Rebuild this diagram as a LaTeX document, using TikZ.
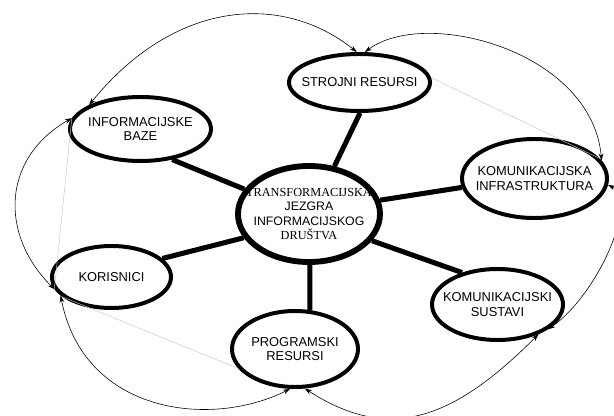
\documentclass[tikz,border=0pt]{standalone}
\usepackage{fontspec}
\setmainfont{Liberation Sans}
\newfontfamily\timesfont{Liberation Serif}
\usetikzlibrary{shapes.geometric,arrows.meta}

\begin{document}
\begin{tikzpicture}[x=0.03cm, y=0.03cm]
  \tikzset{
    area/.style={ellipse, draw, line width=3.4pt, inner xsep=-16pt, inner ysep=-10pt,
      align=center, font=\fontsize{11}{12.5}\selectfont},
    core/.style={area, line width=5pt, font=\fontsize{10.5}{12.3}\selectfont},
    spoke/.style={line width=4.3pt},
    ring/.style={{Stealth[length=6pt,width=4pt]}-{Stealth[length=6pt,width=4pt]}, line width=0.5pt},
    faint/.style={gray!45, line width=0.4pt}
  }
  \useasboundingbox (0,0) rectangle (614,415);
  \node[core, minimum width=4.26cm, minimum height=2.88cm] (jezgra) at (309,201)
    {{\timesfont TRANSFORMACIJSKA}\\JEZGRA\\INFORMACIJSKOG\\{\timesfont DRUŠTVA}};
  \node[area, minimum width=4.23cm, minimum height=1.71cm] (strojni) at (359.5,332.5) {STROJNI RESURSI};
  \node[area, minimum width=4.23cm, minimum height=1.92cm] (baze) at (140.5,286) {INFORMACIJSKE\\BAZE};
  \node[area, minimum width=4.35cm, minimum height=2.37cm] (infra) at (534.5,236.5) {KOMUNIKACIJSKA\\INFRASTRUKTURA};
  \node[area, minimum width=3.57cm, minimum height=1.86cm] (korisnici) at (111.5,138) {KORISNICI};
  \node[area, minimum width=3.78cm, minimum height=2.28cm] (programski) at (295,66) {PROGRAMSKI\\RESURSI};
  \node[area, minimum width=3.93cm, minimum height=2.13cm] (sustavi) at (497.5,110.5) {KOMUNIKACIJSKI\\SUSTAVI};

  \draw[spoke] (jezgra.62) -- (strojni.-89);
  \draw[spoke] (jezgra.159) -- (baze.-44);
  \draw[spoke] (jezgra.11) -- (infra.187);
  \draw[spoke] (jezgra.200) -- (korisnici.20);
  \draw[spoke] (jezgra.-89) -- (programski.69);
  \draw[spoke] (jezgra.-23) -- (sustavi.138);

  \draw[faint] (strojni.4) -- (infra.17);
  \draw[faint] (baze.171) -- (korisnici.192);
  \draw[faint] (korisnici.202) -- (programski.199);

  \draw[ring] (baze.155) .. controls +(85,105) and +(-75,60) .. (strojni.95);
  \draw[ring] (strojni.80) .. controls +(60,45) and +(-10,110) .. (infra.15);
  \draw[ring] (infra.-5) .. controls +(31,-15) and +(50,35) .. (sustavi.-26);
  \draw[ring] (sustavi.-36) .. controls +(-85,-85) and +(85,-55) .. (programski.-76);
  \draw[ring] (programski.-97) .. controls +(-80,-40) and +(23,-118) .. (korisnici.200);
  \draw[ring] (korisnici.192) .. controls +(-55,55) and +(-70,-40) .. (baze.171);
\end{tikzpicture}
\end{document}
